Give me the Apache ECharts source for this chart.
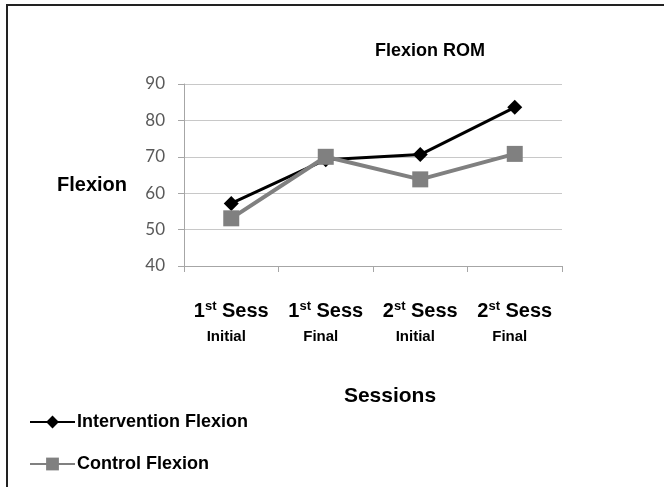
<!DOCTYPE html>
<html>
<head>
<meta charset="utf-8">
<script src="https://cdn.jsdelivr.net/npm/echarts@6/dist/echarts.min.js"></script>
<style>
html,body{margin:0;padding:0;background:#fff;}
#chart{width:664px;height:487px;}
</style>
</head>
<body>
<div id="chart"></div>
<script>
// ---- data ----
var sessionNum = ['1', '1', '2', '2'];
var sessionSup = ['st', 'st', 'st', 'st'];
var phases = ['Initial', 'Final', 'Initial', 'Final'];
var categories = ['1st Sess Initial', '1st Sess Final', '2st Sess Initial', '2st Sess Final'];
var interventionFlexion = [57.2, 69.2, 70.6, 83.6];
var controlFlexion = [53.1, 70.0, 63.8, 70.8];
var yTicks = [40, 50, 60, 70, 80, 90];

var FONT = 'Liberation Sans, Arial, sans-serif';
var chart = echarts.init(document.getElementById('chart'), null, {renderer: 'canvas'});
chart.setOption({
  backgroundColor: '#fff',
  animation: false,
  graphic: [{
    type: 'rect',
    shape: {x: 7, y: 5, width: 700, height: 520},
    style: {fill: 'none', stroke: '#222', lineWidth: 2},
    silent: true
  }],
  title: {
    text: 'Flexion ROM',
    left: 425, top: 37, textAlign: 'center',
    textStyle: {fontFamily: FONT, fontWeight: 'bold', fontSize: 18, color: '#000'}
  },
  legend: {
    orient: 'vertical',
    left: 24, top: 408,
    itemGap: 24,
    itemWidth: 45, itemHeight: 16,
    textStyle: {fontFamily: FONT, fontWeight: 'bold', fontSize: 18, color: '#000', padding: [0,0,0,-3]},
    data: ['Intervention Flexion', 'Control Flexion']
  },
  grid: {left: 184, right: 102, top: 84, bottom: 221},
  xAxis: {
    type: 'category',
    data: categories,
    boundaryGap: true,
    name: 'Sessions',
    nameLocation: 'middle',
    nameGap: 120,
    nameTextStyle: {fontFamily: FONT, fontWeight: 'bold', fontSize: 21, color: '#000', verticalAlign: 'top', padding: [0,0,0,34]},
    axisLine: {lineStyle: {color: '#a6a6a6', width: 1}},
    axisTick: {show: true, length: 6, lineStyle: {color: '#a6a6a6'}},
    axisLabel: {
      margin: 32,
      interval: 0,
      formatter: function (v, i) {
        return '{n|' + sessionNum[i] + '}{s|' + sessionSup[i] + '}{n| Sess}\n{p|' + phases[i] + '}';
      },
      rich: {
        n: {fontFamily: FONT, fontWeight: 'bold', fontSize: 20, color: '#000', lineHeight: 26},
        s: {fontFamily: FONT, fontWeight: 'bold', fontSize: 13, color: '#000', lineHeight: 26, verticalAlign: 'top', padding: [2,0,0,0]},
        p: {fontFamily: FONT, fontWeight: 'bold', fontSize: 15, color: '#000', lineHeight: 26, padding: [0,10,0,0]}
      }
    }
  },
  yAxis: {
    type: 'value',
    min: yTicks[0], max: yTicks[yTicks.length - 1], interval: 10,
    name: 'Flexion',
    nameLocation: 'middle',
    nameRotate: 0,
    nameGap: 57,
    nameTextStyle: {fontFamily: FONT, fontWeight: 'bold', fontSize: 20, color: '#000', verticalAlign: 'top'},
    axisLine: {show: true, lineStyle: {color: '#a6a6a6', width: 1}},
    axisTick: {show: true, length: 6, lineStyle: {color: '#a6a6a6'}},
    axisLabel: {margin: 19, fontFamily: 'Lato, Open Sans, sans-serif', fontSize: 17, color: '#595959'},
    splitLine: {show: true, lineStyle: {color: '#c8c8c8', width: 1}}
  },
  series: [{
    name: 'Intervention Flexion',
    type: 'line',
    data: interventionFlexion,
    color: '#000',
    symbol: 'diamond',
    symbolSize: 15,
    lineStyle: {width: 3, color: '#000'},
    itemStyle: {color: '#000'}
  }, {
    name: 'Control Flexion',
    type: 'line',
    data: controlFlexion,
    color: '#808080',
    symbol: 'rect',
    symbolSize: 16,
    lineStyle: {width: 4, color: '#808080'},
    itemStyle: {color: '#808080'}
  }]
});
</script>
</body>
</html>
